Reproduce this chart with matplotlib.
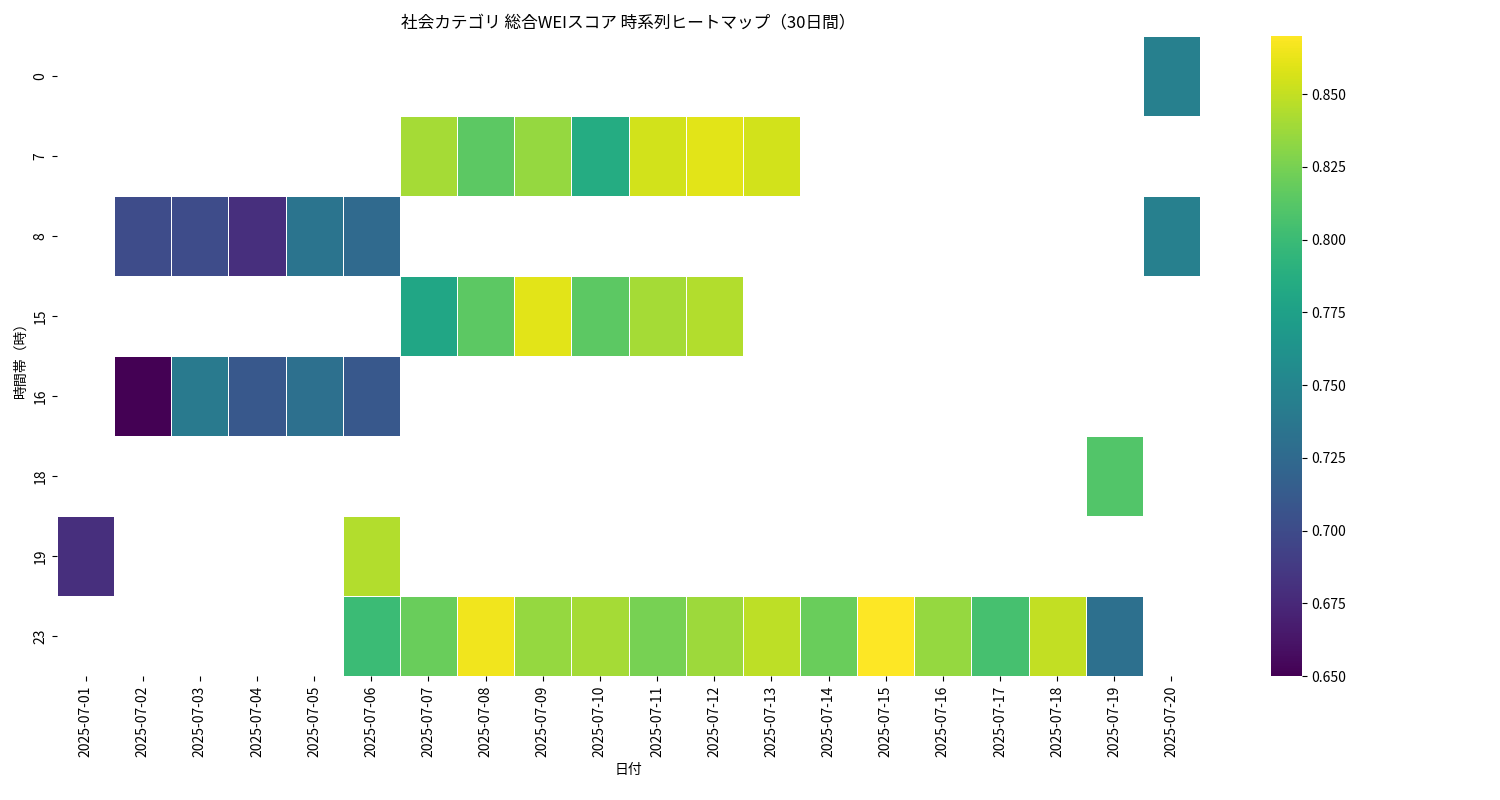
import numpy as np
import pandas as pd
import matplotlib
matplotlib.use("Agg")
import matplotlib.pyplot as plt
import seaborn as sns

plt.rcParams["font.family"] = "Noto Sans CJK JP"

dates = ["2025-07-%02d" % d for d in range(1, 21)]
hours = [0, 7, 8, 15, 16, 18, 19, 23]

# (hour, date index 1-based, score)
cells = [
    (0, 20, 0.745),
    (7, 7, 0.840), (7, 8, 0.815), (7, 9, 0.835), (7, 10, 0.785),
    (7, 11, 0.855), (7, 12, 0.860), (7, 13, 0.855),
    (8, 2, 0.700), (8, 3, 0.700), (8, 4, 0.680), (8, 5, 0.735),
    (8, 6, 0.725), (8, 20, 0.745),
    (15, 7, 0.780), (15, 8, 0.815), (15, 9, 0.860), (15, 10, 0.815),
    (15, 11, 0.840), (15, 12, 0.845),
    (16, 2, 0.650), (16, 3, 0.740), (16, 4, 0.710), (16, 5, 0.730), (16, 6, 0.710),
    (18, 19, 0.810),
    (19, 1, 0.680), (19, 6, 0.845),
    (23, 6, 0.800), (23, 7, 0.820), (23, 8, 0.865), (23, 9, 0.835),
    (23, 10, 0.840), (23, 11, 0.825), (23, 12, 0.838), (23, 13, 0.848),
    (23, 14, 0.820), (23, 15, 0.870), (23, 16, 0.835), (23, 17, 0.805),
    (23, 18, 0.850), (23, 19, 0.730),
]

df = pd.DataFrame(np.nan, index=hours, columns=dates)
for h, d, v in cells:
    df.loc[h, dates[d - 1]] = v

fig = plt.figure(figsize=(15, 8), dpi=100)
ax = fig.add_axes([0.038, 0.155, 0.762, 0.8])
cax = fig.add_axes([0.847, 0.155, 0.021, 0.8])
sns.heatmap(df, cmap="viridis", linewidths=0.5, linecolor="white",
            ax=ax, cbar_ax=cax)
ax.set_title("社会カテゴリ 総合WEIスコア 時系列ヒートマップ（30日間）", fontsize=12)
ax.set_xlabel("日付")
ax.set_ylabel("時間帯（時）")
plt.setp(ax.get_xticklabels(), rotation=90)
plt.setp(ax.get_yticklabels(), rotation=90, va="center")
cax.tick_params(labelsize=10)
fig.savefig("out.png")
